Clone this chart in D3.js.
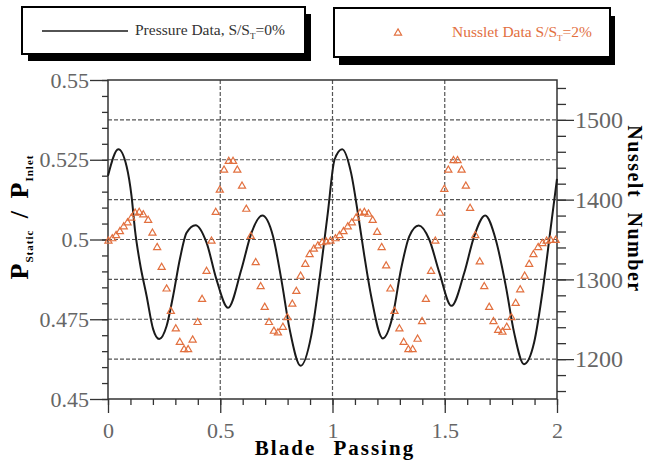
<!DOCTYPE html>
<html>
<head>
<meta charset="utf-8">
<script src="https://cdn.jsdelivr.net/npm/d3@7"></script>
<style>
body { margin: 0; background: #fff; }
svg { display: block; font-family: "Liberation Serif", "DejaVu Serif", serif; }
</style>
</head>
<body>
<script>
// pressure trace (black line)
const pressureX = [0.000, 0.046, 0.083, 0.105, 0.120, 0.142, 0.172, 0.201, 0.228, 0.261, 0.290, 0.320,
    0.350, 0.390, 0.439, 0.483, 0.535, 0.594, 0.639, 0.687, 0.735, 0.772, 0.809, 0.858, 0.905, 0.942,
    0.979, 1.009, 1.043, 1.083, 1.113, 1.142, 1.172, 1.224, 1.268, 1.305, 1.342, 1.384, 1.431, 1.476,
    1.530, 1.587, 1.631, 1.680, 1.727, 1.772, 1.809, 1.853, 1.898, 1.937, 1.971, 2.000];
const pressureP = [0.5200, 0.5283, 0.5229, 0.5135, 0.5031, 0.4927, 0.4823, 0.4719, 0.4688, 0.4729, 0.4823, 0.4938,
    0.5021, 0.5045, 0.4990, 0.4875, 0.4786, 0.4906, 0.5021, 0.5075, 0.5010, 0.4875, 0.4719, 0.4604, 0.4698, 0.4875,
    0.5083, 0.5250, 0.5283, 0.5208, 0.5083, 0.4948, 0.4823, 0.4690, 0.4760, 0.4906, 0.5010, 0.5044, 0.5000, 0.4896,
    0.4792, 0.4896, 0.5010, 0.5075, 0.5000, 0.4854, 0.4708, 0.4609, 0.4677, 0.4844, 0.5031, 0.5190];

// nusselt samples (orange triangles)
const nusseltX = [0.002, 0.019, 0.036, 0.053, 0.070, 0.087, 0.104, 0.121, 0.139, 0.157, 0.179, 0.198, 0.219,
    0.239, 0.261, 0.280, 0.302, 0.320, 0.339, 0.357, 0.377, 0.399, 0.419, 0.439, 0.461, 0.480, 0.498, 0.517,
    0.538, 0.557, 0.576, 0.597, 0.616, 0.636, 0.658, 0.680, 0.698, 0.717, 0.739, 0.757, 0.779, 0.799, 0.821,
    0.839, 0.858, 0.879, 0.898, 0.917, 0.935, 0.954, 0.972, 0.991,
    1.013, 1.031, 1.049, 1.068, 1.086, 1.105, 1.123, 1.142, 1.160, 1.179, 1.199, 1.219, 1.239, 1.258, 1.276,
    1.298, 1.317, 1.338, 1.357, 1.379, 1.399, 1.416, 1.439, 1.458, 1.479, 1.498, 1.516, 1.539, 1.557, 1.575,
    1.594, 1.613, 1.636, 1.656, 1.676, 1.698, 1.717, 1.738, 1.757, 1.776, 1.797, 1.816, 1.836, 1.856, 1.876,
    1.895, 1.916, 1.935, 1.954, 1.972, 1.994];
const nusseltN = [1348, 1351, 1355, 1360, 1366, 1371, 1377, 1383, 1384, 1381, 1374, 1358, 1340,
    1315, 1288, 1260, 1238, 1221, 1212, 1212, 1224, 1246, 1275, 1310, 1348, 1384, 1412, 1437,
    1448, 1448, 1437, 1417, 1388, 1354, 1321, 1291, 1265, 1246, 1235, 1233, 1240, 1252, 1269,
    1285, 1304, 1319, 1331, 1338, 1342, 1346, 1347, 1348,
    1351, 1355, 1360, 1366, 1371, 1377, 1383, 1384, 1382, 1374, 1359, 1340, 1317, 1288, 1260,
    1238, 1221, 1212, 1212, 1225, 1247, 1275, 1310, 1348, 1383, 1413, 1437, 1449, 1449, 1437,
    1417, 1389, 1355, 1322, 1291, 1265, 1247, 1236, 1234, 1240, 1252, 1270, 1287, 1304, 1319,
    1331, 1340, 1345, 1348, 1349, 1349];

const xTicks = [0, 0.5, 1, 1.5, 2];
const xTickLabels = ['0', '0.5', '1', '1.5', '2'];
const pTicks = [0.45, 0.475, 0.5, 0.525, 0.55];
const pTickLabels = ['0.45', '0.475', '0.5', '0.525', '0.55'];
const nTicks = [1200, 1300, 1400, 1500];
const nTickLabels = ['1200', '1300', '1400', '1500'];
const gridX = [0.5, 1, 1.5];
const gridN = [1200, 1250, 1300, 1350, 1400, 1450, 1500];

const orange = '#e2703f';
const tickGrey = '#666';

const svg = d3.select('body').append('svg')
    .attr('width', 645).attr('height', 464)
    .attr('viewBox', '0 0 645 464');

const x = d3.scaleLinear([0, 2], [108, 557]);
const yP = d3.scaleLinear([0.45, 0.55], [399, 80]);
const yN = d3.scaleLinear([1150, 1550], [399, 80]);

function grid() {
    const g = svg.append('g')
        .attr('stroke', '#555').attr('stroke-width', 1.2)
        .attr('stroke-dasharray', '4,2').attr('fill', 'none');

    gridN.forEach(n => {
        const p = d3.path();
        p.moveTo(x(0), yN(n));
        p.lineTo(x(2), yN(n));
        g.append('path').attr('d', p);
    });

    gridX.forEach(v => {
        const p = d3.path();
        p.moveTo(x(v), yP(0.55));
        p.lineTo(x(v), yP(0.45));
        g.append('path').attr('d', p);
    });
}

function styleAxis(g, size) {
    g.select('.domain').remove();
    g.selectAll('line').attr('stroke', '#333').attr('stroke-width', 1.3);
    g.selectAll('text').attr('fill', tickGrey)
        .attr('font-family', '"Liberation Serif", serif').attr('font-size', size);
    g.attr('font-family', null).attr('font-size', null);
}

function axes() {
    // minor ticks first
    const minorX = d3.range(0, 2.0001, 0.1);
    const minorP = d3.range(0.45, 0.5501, 0.005);
    const minorN = d3.range(1160, 1541, 20);

    svg.append('g').attr('transform', `translate(0,${yP(0.45)})`)
        .call(d3.axisBottom(x).tickValues(minorX).tickSize(6).tickFormat(''))
        .call(g => styleAxis(g, 22));
    svg.append('g').attr('transform', `translate(${x(0)},0)`)
        .call(d3.axisLeft(yP).tickValues(minorP).tickSize(6).tickFormat(''))
        .call(g => styleAxis(g, 22));
    svg.append('g').attr('transform', `translate(${x(2)},0)`)
        .call(d3.axisRight(yN).tickValues(minorN).tickSize(9).tickFormat(''))
        .call(g => styleAxis(g, 24));

    // major ticks with labels
    svg.append('g').attr('transform', `translate(0,${yP(0.45)})`)
        .call(d3.axisBottom(x).tickValues(xTicks).tickSize(14).tickPadding(9)
            .tickFormat((d, i) => xTickLabels[i]))
        .call(g => styleAxis(g, 22));
    svg.append('g').attr('transform', `translate(${x(0)},0)`)
        .call(d3.axisLeft(yP).tickValues(pTicks).tickSize(18).tickPadding(1)
            .tickFormat((d, i) => pTickLabels[i]))
        .call(g => styleAxis(g, 22));
    svg.append('g').attr('transform', `translate(${x(2)},0)`)
        .call(d3.axisRight(yN).tickValues(nTicks).tickSize(17).tickPadding(1)
            .tickFormat((d, i) => nTickLabels[i]))
        .call(g => styleAxis(g, 24));

    // frame
    const p = d3.path();
    p.moveTo(x(0), yP(0.45));
    p.lineTo(x(0), yP(0.55));
    p.lineTo(x(2), yP(0.55));
    p.lineTo(x(2), yP(0.45));
    p.closePath();
    svg.append('path').attr('d', p)
        .attr('fill', 'none').attr('stroke', '#333').attr('stroke-width', 1.5);
}

function series() {
    const pts = pressureX.map((v, i) => [v, pressureP[i]]);
    const line = d3.line()
        .x(d => x(d[0]))
        .y(d => yP(d[1]))
        .curve(d3.curveMonotoneX);
    svg.append('path').attr('d', line(pts))
        .attr('fill', 'none').attr('stroke', '#1a1a1a').attr('stroke-width', 2);

    const tri = d3.symbol(d3.symbolTriangle).size(22);
    svg.append('g')
        .selectAll('path')
        .data(nusseltX.map((v, i) => [v, nusseltN[i]]))
        .join('path')
        .attr('d', tri)
        .attr('transform', d => `translate(${x(d[0])},${yN(d[1])})`)
        .attr('fill', 'none').attr('stroke', orange).attr('stroke-width', 1.2);
}

function legendBox(x0, y0, w, h, dx, dy) {
    const g = svg.append('g');
    g.append('rect').attr('x', x0 + dx).attr('y', y0 + dy).attr('width', w).attr('height', h)
        .attr('fill', '#000');
    g.append('rect').attr('x', x0).attr('y', y0).attr('width', w).attr('height', h)
        .attr('fill', '#fff').attr('stroke', '#000').attr('stroke-width', 2);
    return g;
}

function legends() {
    const g1 = legendBox(22, 7, 283, 47, 6, 7);
    const p = d3.path();
    p.moveTo(42, 31);
    p.lineTo(128, 31);
    g1.append('path').attr('d', p).attr('stroke', '#1a1a1a').attr('stroke-width', 1.5);
    const t1 = g1.append('text').attr('x', 135).attr('y', 35)
        .attr('font-size', 15.5).attr('fill', '#333');
    t1.append('tspan').text('Pressure Data, S/S');
    t1.append('tspan').attr('font-size', 9).attr('dy', 4).text('T');
    t1.append('tspan').attr('dy', -4).text('=0%');

    const g2 = legendBox(334, 8, 276, 49, 5, 8);
    g2.append('path').attr('d', d3.symbol(d3.symbolTriangle).size(22))
        .attr('transform', 'translate(398,33)')
        .attr('fill', 'none').attr('stroke', orange).attr('stroke-width', 1.2);
    const t2 = g2.append('text').attr('x', 452).attr('y', 37)
        .attr('font-size', 15.5).attr('fill', orange);
    t2.append('tspan').text('Nusslet Data S/S');
    t2.append('tspan').attr('font-size', 9).attr('dy', 4).text('T');
    t2.append('tspan').attr('dy', -4).text('=2%');
}

function titles() {
    svg.append('text')
        .attr('x', 335).attr('y', 455)
        .attr('text-anchor', 'middle')
        .attr('font-size', 21).attr('font-weight', 'bold')
        .attr('letter-spacing', 2).attr('word-spacing', 10)
        .text('Blade Passing');

    const left = svg.append('text')
        .attr('transform', 'translate(28,217) rotate(-90)')
        .attr('text-anchor', 'middle')
        .attr('font-size', 26).attr('font-weight', 'bold')
        .attr('letter-spacing', 1).attr('word-spacing', 4);
    left.append('tspan').text('P');
    left.append('tspan').attr('font-size', 11).attr('dy', 5).text('Static');
    left.append('tspan').attr('dy', -5).text(' / P');
    left.append('tspan').attr('font-size', 11).attr('dy', 5).text('Inlet');

    svg.append('text')
        .attr('transform', 'translate(628,209) rotate(90)')
        .attr('text-anchor', 'middle')
        .attr('font-size', 20).attr('font-weight', 'bold')
        .attr('letter-spacing', 1.5).attr('word-spacing', 8)
        .text('Nusselt Number');
}

grid();
axes();
series();
legends();
titles();
</script>
</body>
</html>
